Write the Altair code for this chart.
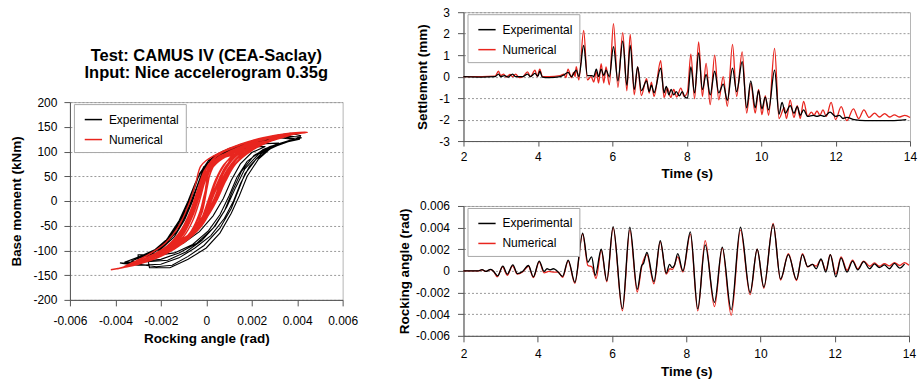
import altair as alt
import pandas as pd

FONT = "Liberation Sans"
RED = "#e8251e"
BLACK = "#000000"
SERIES = ["Experimental", "Numerical"]

# ---------------- Hysteresis loops: (rocking angle in mrad, base moment in kNm) -------------
hyst_exp = [
    (-3.8, -125), (-3.0, -128), (-2.2, -133), (-1.5, -130), (-0.8, -112), (-0.1, -90), (0.6, -55),
    (1.1, -15), (1.4, 20), (1.7, 55), (2.2, 85), (2.9, 108), (3.6, 120), (4.1, 125),
    (4.15, 132), (3.7, 137), (3.0, 132), (2.2, 122), (1.3, 108), (0.5, 92), (-0.1, 70), (-0.5, 35),
    (-0.8, 0), (-1.2, -40), (-1.7, -75), (-2.2, -108), (-3.0, -109), (-3.0, -125), (-3.8, -126),
    (-3.0, -130), (-2.0, -128), (-1.2, -115), (-0.5, -95), (0.2, -70), (0.8, -35), (1.2, 0),
    (1.5, 35), (1.9, 70), (2.4, 95), (3.0, 112), (3.8, 125),
    (3.2, 128), (2.4, 122), (1.6, 112), (0.8, 100), (0.1, 82), (-0.3, 55), (-0.6, 15), (-0.9, -20),
    (-1.4, -60), (-2.0, -92), (-2.6, -110), (-2.5, -135), (-1.6, -135), (-0.8, -118), (0.0, -95),
    (0.6, -65), (1.1, -25), (1.45, 10), (1.8, 50), (2.3, 85), (2.8, 105), (3.4, 118), (4.0, 127),
    (4.1, 130), (3.5, 130), (2.8, 124), (2.0, 116), (1.2, 104), (0.5, 88), (0.0, 68), (-0.3, 40),
    (-0.65, 0), (-1.0, -35), (-1.5, -70), (-2.1, -95), (-2.9, -112), (-3.6, -124),
    (-2.8, -122), (-2.0, -118), (-1.2, -105), (-0.4, -85), (0.3, -55), (0.8, -20), (1.15, 20),
    (1.55, 60), (2.1, 92), (2.8, 110), (3.5, 120), (4.2, 128),
    (3.6, 132), (2.8, 127), (1.9, 118), (1.0, 106), (0.3, 90), (-0.15, 62), (-0.45, 25),
    (-0.75, -10), (-1.2, -50), (-1.8, -85), (-2.5, -106), (-3.3, -122),
    (-2.6, -123), (-1.7, -120), (-0.9, -103), (-0.2, -80), (0.4, -50), (0.9, -12), (1.3, 28),
    (1.7, 65), (2.3, 95), (3.0, 113), (3.9, 126),
    (3.2, 131), (2.3, 124), (1.5, 114), (0.7, 100), (0.1, 82), (-0.35, 50), (-0.7, 8),
    (-1.1, -35), (-1.6, -72), (-2.3, -100), (-3.0, -116),
    (-1.8, -100), (-1.0, -85), (-0.3, -62), (0.3, -30), (0.75, 5), (1.1, 42), (1.5, 75),
    (2.0, 98), (2.6, 110),
    (2.0, 110), (1.3, 102), (0.6, 90), (0.0, 70), (-0.35, 35), (-0.6, 0), (-0.95, -38),
    (-1.4, -72), (-2.0, -98),
    (-2.2, -110), (-1.4, -105), (-0.6, -88), (0.1, -60), (0.6, -28), (1.0, 10), (1.35, 48),
    (1.8, 80), (2.5, 104), (3.2, 117),
    (2.6, 116), (1.8, 110), (1.0, 100), (0.3, 85), (-0.2, 55), (-0.5, 15), (-0.85, -25),
    (-1.3, -62), (-1.9, -92), (-2.5, -110),
]
hyst_num = [
    (-4.2, -139), (-3.0, -128), (-2.0, -112), (-1.0, -85), (-0.2, -50), (0.3, -10), (0.7, 30),
    (1.1, 65), (1.7, 95), (2.6, 118), (3.5, 132), (4.45, 139),
    (3.5, 136), (2.5, 128), (1.5, 115), (0.6, 98), (0.0, 82), (-0.25, 70), (-0.5, 30), (-0.8, -10),
    (-1.2, -50), (-1.8, -85), (-2.6, -110), (-3.7, -135),
    (-2.6, -120), (-1.6, -100), (-0.7, -70), (0.0, -35), (0.45, 0), (0.85, 40), (1.3, 75),
    (2.0, 102), (2.9, 122), (3.8, 135),
    (3.0, 132), (2.0, 122), (1.0, 105), (0.3, 85), (-0.1, 60), (-0.4, 20), (-0.7, -20),
    (-1.1, -58), (-1.7, -90), (-2.5, -112), (-3.2, -125),
    (-2.4, -112), (-1.5, -95), (-0.6, -68), (0.0, -30), (0.4, 10), (0.8, 50), (1.3, 85),
    (2.0, 108), (3.0, 128),
    (2.2, 120), (1.3, 105), (0.6, 90), (0.1, 65), (-0.2, 30), (-0.5, -10), (-0.9, -50),
    (-1.5, -85), (-2.2, -105), (-2.8, -118),
    (-2.0, -105), (-1.2, -88), (-0.4, -60), (0.1, -25), (0.5, 15), (0.9, 55), (1.4, 88),
    (2.2, 112), (3.2, 130),
    (2.4, 124), (1.5, 110), (0.8, 95), (0.2, 72), (-0.15, 40), (-0.45, 0), (-0.8, -40),
    (-1.3, -75), (-2.0, -100), (-2.6, -115),
    (-1.8, -100), (-1.0, -80), (-0.3, -50), (0.2, -10), (0.6, 30), (1.0, 65), (1.6, 95), (2.4, 115),
    (1.7, 105), (1.0, 95), (0.4, 80), (0.0, 50), (-0.3, 10), (-0.6, -30), (-1.0, -65),
    (-1.6, -92), (-2.2, -108),
    (-1.3, -88), (-0.6, -62), (-0.1, -30), (0.25, 5), (0.55, 40), (0.9, 72), (1.4, 95), (2.1, 112),
    (1.4, 104), (0.7, 92), (0.2, 75), (-0.1, 45), (-0.35, 5), (-0.65, -35), (-1.05, -70),
    (-1.7, -98),
    (-1.0, -80), (-0.4, -50), (-0.05, -20), (0.1, 0), (0.35, 30), (0.65, 62), (1.1, 90),
    (1.7, 106),
    (1.2, 100), (0.6, 88), (0.2, 68), (0.0, 35), (-0.1, 0), (-0.35, -35), (-0.7, -65),
    (-1.2, -88),
    (-1.1, -85), (-0.45, -55), (0.05, -18), (0.4, 20), (0.7, 55), (1.1, 85), (1.7, 104),
    (1.1, 98), (0.5, 85), (0.05, 62), (-0.2, 28), (-0.45, -10), (-0.8, -50), (-1.3, -82),
    (-0.6, -62), (-0.2, -35), (0.0, -10), (0.15, 10), (0.4, 42), (0.75, 72), (1.2, 95),
    (0.7, 85), (0.25, 65), (0.05, 30), (-0.05, 5), (-0.2, -25), (-0.5, -55), (-0.9, -80),
    (-0.7, -65), (-0.15, -30), (0.2, 5), (0.5, 38), (0.85, 70), (1.3, 92),
    (0.8, 88), (0.3, 72), (-0.05, 40), (-0.3, 0), (-0.6, -40), (-1.0, -72), (-1.6, -95),
    (-0.9, -75), (-0.35, -45), (0.1, -10), (0.45, 25), (0.8, 60), (1.25, 88), (1.9, 108),
    (2.6, 120),
    (1.9, 112), (1.1, 100), (0.45, 86), (0.0, 58), (-0.25, 22), (-0.5, -15), (-0.85, -52),
    (-1.35, -82), (-2.0, -102),
    (-1.2, -90), (-0.55, -65), (-0.05, -35), (0.3, -2), (0.6, 32), (0.95, 65), (1.45, 92),
    (2.2, 112),
    (1.5, 106), (0.8, 94), (0.25, 78), (-0.05, 50), (-0.3, 12), (-0.55, -25), (-0.95, -62),
    (-1.5, -92),
    (-0.3, -50), (0.05, -15), (0.25, 15), (0.5, 50), (0.9, 80), (1.5, 100),
    (0.9, 92), (0.4, 76), (0.1, 45), (-0.1, 10), (-0.3, -25), (-0.65, -60), (-1.1, -85),
    (-0.8, -72), (-0.2, -40), (0.3, 0), (0.7, 45), (1.2, 80), (1.9, 105), (2.8, 122),
    (2.0, 115), (1.2, 102), (0.5, 88), (0.05, 62), (-0.25, 20), (-0.55, -20), (-0.95, -58),
    (-1.5, -88), (-2.4, -112), (-3.4, -130),
    (-2.5, -118), (-1.6, -100), (-0.8, -75), (-0.1, -40), (0.35, 0), (0.75, 40), (1.2, 78),
    (1.8, 100), (2.7, 120), (3.6, 133),
    (2.8, 128), (1.8, 118), (1.0, 104), (0.35, 88), (0.0, 65), (-0.3, 25), (-0.6, -15),
    (-1.0, -55), (-1.6, -88), (-2.3, -108), (-3.0, -122),
    (-2.2, -110), (-1.3, -92), (-0.5, -62), (0.05, -25), (0.5, 15), (0.95, 58), (1.5, 92),
    (2.3, 115), (3.3, 130), (4.0, 137),
    (3.2, 134), (2.2, 124), (1.2, 108), (0.5, 92), (0.05, 70), (-0.2, 40), (-0.5, 0),
    (-0.85, -40), (-1.4, -78), (-2.1, -104), (-3.0, -124), (-3.9, -137),
]

# ---------------- Settlement (time s, mm) ----------------
settle_exp = [
    (2.0, 0.0), (2.5, -0.02), (2.85, 0.0), (2.94, 0.12), (3.0, 0.0), (3.1, 0.05), (3.2, -0.02),
    (3.32, 0.12), (3.4, 0.0), (3.6, 0.0), (3.72, 0.12), (3.8, 0.0), (3.92, 0.15), (4.0, 0.02),
    (4.05, 0.25), (4.12, -0.02), (4.3, -0.05), (4.6, 0.0), (4.7, 0.08), (4.81, 0.2), (4.9, 0.0),
    (5.03, 0.3), (5.1, 0.0), (5.23, 1.45), (5.33, 0.05), (5.45, 0.05), (5.5, 0.0), (5.57, 0.35),
    (5.63, 0.0), (5.70, 0.35), (5.77, 0.05), (5.83, 0.3), (5.92, 0.0), (6.03, 1.4), (6.15, -0.2),
    (6.28, 1.65), (6.39, -0.4), (6.48, 1.45), (6.59, -0.6), (6.68, 0.45), (6.78, -0.65),
    (6.92, -0.2), (6.99, -0.7), (7.05, -0.4), (7.12, -0.75), (7.30, 0.4), (7.39, -0.75),
    (7.45, -0.45), (7.52, -0.85), (7.58, -0.6), (7.65, -0.85), (7.72, -0.7), (7.8, -0.9),
    (7.88, -0.7), (7.95, -0.95), (8.02, -1.0), (8.11, 0.45), (8.21, -0.75), (8.32, 1.1),
    (8.42, -0.6), (8.52, 0.1), (8.63, -0.85), (8.75, 0.25), (8.86, -0.75), (8.98, -0.35),
    (9.09, -1.1), (9.23, 0.4), (9.34, -0.7), (9.49, 0.7), (9.61, -1.45), (9.72, -0.2),
    (9.84, -1.45), (9.93, -0.65), (10.02, -1.5), (10.11, -0.95), (10.2, -1.55), (10.36, 0.3),
    (10.48, -1.75), (10.56, -1.2), (10.65, -1.7), (10.78, -1.35), (10.88, -1.7), (10.97, -1.4),
    (11.05, -1.8), (11.14, -1.55), (11.25, -1.85), (11.4, -1.8), (11.5, -1.85), (11.6, -1.8),
    (11.7, -1.85), (11.85, -1.65), (12.0, -1.85), (12.1, -1.8), (12.2, -1.95), (12.3, -1.9),
    (12.5, -2.0), (12.8, -2.05), (13.2, -2.05), (13.5, -2.05), (13.9, -2.0),
]
settle_num = [
    (2.0, 0.0), (2.5, 0.0), (2.85, 0.02), (2.94, 0.25), (3.0, 0.05), (3.08, 0.12), (3.15, -0.02),
    (3.25, 0.1), (3.32, 0.0), (3.4, 0.12), (3.5, -0.05), (3.6, 0.0), (3.72, 0.22), (3.8, 0.0),
    (3.92, 0.3), (3.98, 0.0), (4.05, 0.35), (4.12, 0.0), (4.3, 0.0), (4.6, 0.05), (4.7, 0.12),
    (4.75, -0.05), (4.81, 0.35), (4.9, -0.05), (4.96, 0.2), (5.0, 0.0), (5.03, 0.46),
    (5.1, -0.15), (5.23, 2.15), (5.33, -0.15), (5.43, 0.0), (5.5, -0.25), (5.57, 0.23),
    (5.63, -0.3), (5.70, 0.6), (5.77, -0.3), (5.83, 0.45), (5.92, -0.38), (6.03, 2.47),
    (6.15, -0.5), (6.28, 2.05), (6.39, -0.66), (6.48, 1.97), (6.59, -0.85), (6.68, 0.46),
    (6.78, -0.88), (6.92, -0.1), (6.99, -0.77), (7.05, -0.26), (7.12, -0.92), (7.30, 0.74),
    (7.39, -0.97), (7.48, -0.54), (7.57, -0.97), (7.65, -0.6), (7.73, -0.95), (7.84, -0.54),
    (7.93, -0.92), (8.02, -0.7), (8.11, 1.05), (8.21, -1.03), (8.32, 1.62), (8.42, -0.92),
    (8.52, 0.62), (8.63, -1.3), (8.75, 1.0), (8.86, -1.08), (8.98, 0.0), (9.09, -1.38),
    (9.23, 1.5), (9.34, -0.92), (9.49, 1.15), (9.61, -1.7), (9.72, -0.3), (9.84, -1.7),
    (9.93, -0.6), (10.02, -1.77), (10.11, -0.88), (10.2, -1.8), (10.36, 1.32), (10.48, -1.95),
    (10.62, -1.45), (10.68, -1.95), (10.78, -1.1), (10.88, -1.9), (10.97, -1.35), (11.05, -1.95),
    (11.14, -1.15), (11.25, -1.85), (11.35, -1.65), (11.42, -1.8), (11.5, -1.6), (11.58, -1.8),
    (11.66, -1.55), (11.75, -1.85), (11.88, -1.2), (12.0, -2.0), (12.15, -1.4), (12.3, -2.05),
    (12.48, -1.5), (12.62, -1.95), (12.76, -1.55), (12.9, -1.9), (13.05, -1.7), (13.18, -1.88),
    (13.32, -1.72), (13.45, -1.88), (13.58, -1.78), (13.72, -1.88), (13.86, -1.8), (14.0, -1.9),
]

# ---------------- Rocking angle (time s, mrad) ----------------
rock_exp = [
    (2.0, 0.0), (2.4, 0.0), (2.5, 0.12), (2.6, -0.05), (2.73, 0.15), (2.8, 0.0), (2.92, -0.45),
    (3.06, 0.45), (3.18, -0.3), (3.33, 0.55), (3.45, -0.25), (3.59, -0.05), (3.75, 0.5),
    (3.88, -0.55), (4.04, 0.9), (4.17, -0.05), (4.25, 0.2), (4.33, 0.1), (4.42, 0.2), (4.52, 0.0),
    (4.67, -0.5), (4.82, 1.0), (5.0, -1.05), (5.21, 3.5), (5.35, 0.8), (5.45, 1.3), (5.55, -0.4),
    (5.71, 2.0), (5.86, -0.9), (6.03, 4.1), (6.28, -3.5), (6.48, 4.05), (6.68, -1.7), (6.8, 0.5),
    (6.85, 0.7), (6.94, 1.7), (7.13, -1.0), (7.30, 2.8), (7.46, -0.2), (7.55, 0.6), (7.62, 0.3),
    (7.68, 0.5), (7.77, 1.6), (7.91, 0.0), (8.11, 3.6), (8.31, -3.5), (8.51, 2.4), (8.76, -2.9),
    (8.97, 2.2), (9.21, -3.6), (9.46, 4.05), (9.72, -2.0), (9.91, 2.0), (10.09, -1.5),
    (10.34, 4.3), (10.54, -0.75), (10.75, 1.5), (10.97, -0.8), (11.13, 1.5), (11.27, 0.4),
    (11.4, 0.6), (11.5, 0.2), (11.63, 1.1), (11.76, -0.1), (11.88, 1.5), (12.03, -0.55),
    (12.17, 1.2), (12.33, -0.1), (12.48, 0.9), (12.62, 0.1), (12.78, 0.85), (12.94, 0.2),
    (13.07, 0.65), (13.2, 0.3), (13.34, 0.55), (13.47, 0.2), (13.61, 0.7), (13.75, 0.25),
    (13.88, 0.65),
]
rock_num = [
    (2.0, 0.0), (2.4, 0.0), (2.5, 0.1), (2.6, -0.05), (2.73, 0.12), (2.8, 0.0), (2.91, -0.55),
    (3.05, 0.37), (3.18, -0.4), (3.32, 0.46), (3.45, -0.3), (3.59, -0.1), (3.75, 0.43),
    (3.88, -0.62), (4.04, 0.83), (4.17, -0.18), (4.3, -0.05), (4.45, -0.12), (4.55, -0.1),
    (4.67, -0.6), (4.82, 0.92), (5.0, -1.15), (5.21, 3.4), (5.35, 0.5), (5.46, 0.37),
    (5.57, -0.7), (5.71, 1.9), (5.86, -1.0), (6.03, 4.0), (6.28, -3.7), (6.48, 3.8),
    (6.68, -1.95), (6.8, 0.4), (6.94, 1.5), (7.13, -1.2), (7.30, 2.7), (7.46, -0.3), (7.56, 0.2),
    (7.63, 0.15), (7.77, 1.3), (7.91, -0.1), (8.11, 3.4), (8.31, -3.7), (8.51, 2.8), (8.76, -3.3),
    (8.97, 2.1), (9.21, -4.1), (9.46, 3.8), (9.72, -2.2), (9.91, 2.0), (10.09, -1.6), (10.34, 4.4),
    (10.54, -0.85), (10.75, 1.6), (10.97, -0.9), (11.13, 1.6), (11.27, 0.37), (11.4, 0.6),
    (11.5, 0.45), (11.63, 1.05), (11.76, 0.06), (11.88, 1.5), (12.03, -0.3), (12.17, 1.3),
    (12.33, 0.06), (12.48, 1.0), (12.62, 0.2), (12.78, 0.9), (12.94, 0.43), (13.07, 0.74),
    (13.2, 0.43), (13.34, 0.68), (13.47, 0.46), (13.61, 0.77), (13.75, 0.5), (13.88, 0.77),
    (14.0, 0.52),
]

angle_ticks = [-0.006, -0.004, -0.002, 0, 0.002, 0.004, 0.006]
moment_ticks = [-200, -150, -100, -50, 0, 50, 100, 150, 200]
time_ticks = [2, 4, 6, 8, 10, 12, 14]
settle_ticks = [-3, -2, -1, 0, 1, 2, 3]
rock_ticks = [-0.006, -0.004, -0.002, 0, 0.002, 0.004, 0.006]

title_lines = ["Test: CAMUS IV (CEA-Saclay)", "Input: Nice accelerogram 0.35g"]


def frame(pairs, series, xs=1.0, ys=1.0):
    return pd.DataFrame({
        "x": [p[0] * xs for p in pairs],
        "y": [p[1] * ys for p in pairs],
        "series": series,
        "i": list(range(len(pairs))),
    })


def legend():
    return alt.Legend(title=None, orient="none", legendX=4, legendY=2, direction="vertical",
                      fillColor="white", strokeColor="#a8a8a8", padding=6,
                      labelFontSize=12, labelFont=FONT, labelColor="black",
                      symbolType="stroke", symbolSize=300, symbolStrokeWidth=1.5,
                      rowPadding=4, labelOffset=6, symbolOffset=4)


def color():
    return alt.Color("series:N", scale=alt.Scale(domain=SERIES, range=[BLACK, RED]),
                     legend=legend())


LBL = "toString(datum.value)"

# ---------- left: hysteresis ----------
hx = alt.X("x:Q", scale=alt.Scale(domain=[-0.006, 0.006], nice=False, zero=False),
           axis=alt.Axis(title="Rocking angle (rad)", values=angle_ticks, labelExpr=LBL,
                         grid=False, tickSize=6, labelPadding=10, titlePadding=5,
                         labelFlush=False, labelOverlap=False))
hy = alt.Y("y:Q", scale=alt.Scale(domain=[-200, 200], nice=False, zero=False),
           axis=alt.Axis(title="Base moment (kNm)", values=moment_ticks, labelExpr=LBL,
                         grid=True, tickSize=6, labelPadding=7, titlePadding=9,
                         labelOverlap=False))

h_exp = alt.Chart(frame(hyst_exp, "Experimental", xs=0.001)).mark_line(
    strokeWidth=1.1).encode(x=hx, y=hy, color=color(), order=alt.Order("i:Q"))
h_num = alt.Chart(frame(hyst_num, "Numerical", xs=0.001)).mark_line(
    strokeWidth=1.4, interpolate="catmull-rom").encode(
    x=hx, y=hy, color=color(), order=alt.Order("i:Q"))

left = alt.layer(h_exp, h_num).properties(
    width=273, height=198,
    title=alt.TitleParams(text=title_lines, font=FONT, fontSize=16.5, fontWeight="bold",
                          color="black", lineHeight=17, offset=15, anchor="middle",
                          frame="group"))

# invisible spacer that leaves room above the left title
spacer = alt.Chart(pd.DataFrame({"v": [0]})).mark_point(opacity=0).properties(
    width=273, height=35, view=alt.ViewBackground(strokeOpacity=0))

left_col = alt.vconcat(spacer, left, spacing=0).resolve_scale(color="independent")

# ---------- top right: settlement ----------
sx = alt.X("x:Q", scale=alt.Scale(domain=[2, 14], nice=False, zero=False),
           axis=alt.Axis(title="Time (s)", values=time_ticks, grid=False, tickSize=5,
                         labelPadding=5, titlePadding=4, labelFlush=False, labelOverlap=False))
sy = alt.Y("y:Q", scale=alt.Scale(domain=[-3, 3], nice=False, zero=False),
           axis=alt.Axis(title="Settlement (mm)", values=settle_ticks, labelExpr=LBL,
                         grid=True, tickSize=6, labelPadding=8, titlePadding=9,
                         labelOverlap=False))
s_num = alt.Chart(frame(settle_num, "Numerical")).mark_line(
    strokeWidth=1.3, interpolate="monotone").encode(
    x=sx, y=sy, color=color(), order=alt.Order("i:Q"))
s_exp = alt.Chart(frame(settle_exp, "Experimental")).mark_line(
    strokeWidth=1.3, interpolate="monotone").encode(
    x=sx, y=sy, color=color(), order=alt.Order("i:Q"))
top = alt.layer(s_num, s_exp).properties(width=447, height=129)

# ---------- bottom right: rocking angle ----------
rx = alt.X("x:Q", scale=alt.Scale(domain=[2, 14], nice=False, zero=False),
           axis=alt.Axis(title="Time (s)", values=time_ticks, grid=False, tickSize=6,
                         labelPadding=7, titlePadding=5, labelFlush=False, labelOverlap=False))
ry = alt.Y("y:Q", scale=alt.Scale(domain=[-0.006, 0.006], nice=False, zero=False),
           axis=alt.Axis(title="Rocking angle (rad)", values=rock_ticks, labelExpr=LBL,
                         grid=True, tickSize=6, labelPadding=8, titlePadding=4,
                         labelOverlap=False))
r_num = alt.Chart(frame(rock_num, "Numerical", ys=0.001)).mark_line(
    strokeWidth=1.3, interpolate="monotone").encode(
    x=rx, y=ry, color=color(), order=alt.Order("i:Q"))
r_exp = alt.Chart(frame(rock_exp, "Experimental", ys=0.001)).mark_line(
    strokeWidth=1.3, interpolate="monotone").encode(
    x=rx, y=ry, color=color(), order=alt.Order("i:Q"))
bottom = alt.layer(r_num, r_exp).properties(width=446, height=130)

right = alt.vconcat(top, bottom, spacing=19).resolve_scale(color="independent")

chart = alt.hconcat(left_col, right, spacing=38).resolve_scale(
    color="independent"
).properties(
    padding={"left": 9, "top": 5, "right": 5, "bottom": 5}
).configure_view(
    stroke="#b5b5b5"
).configure_axis(
    labelFont=FONT, titleFont=FONT, labelFontSize=12, titleFontSize=13.5,
    titleFontWeight="bold", labelColor="black", titleColor="black",
    domainColor="#555555", tickColor="#555555", gridColor="#999999", gridDash=[2, 2]
)

chart.save("out.html", embed_options={"renderer": "svg", "actions": False})
